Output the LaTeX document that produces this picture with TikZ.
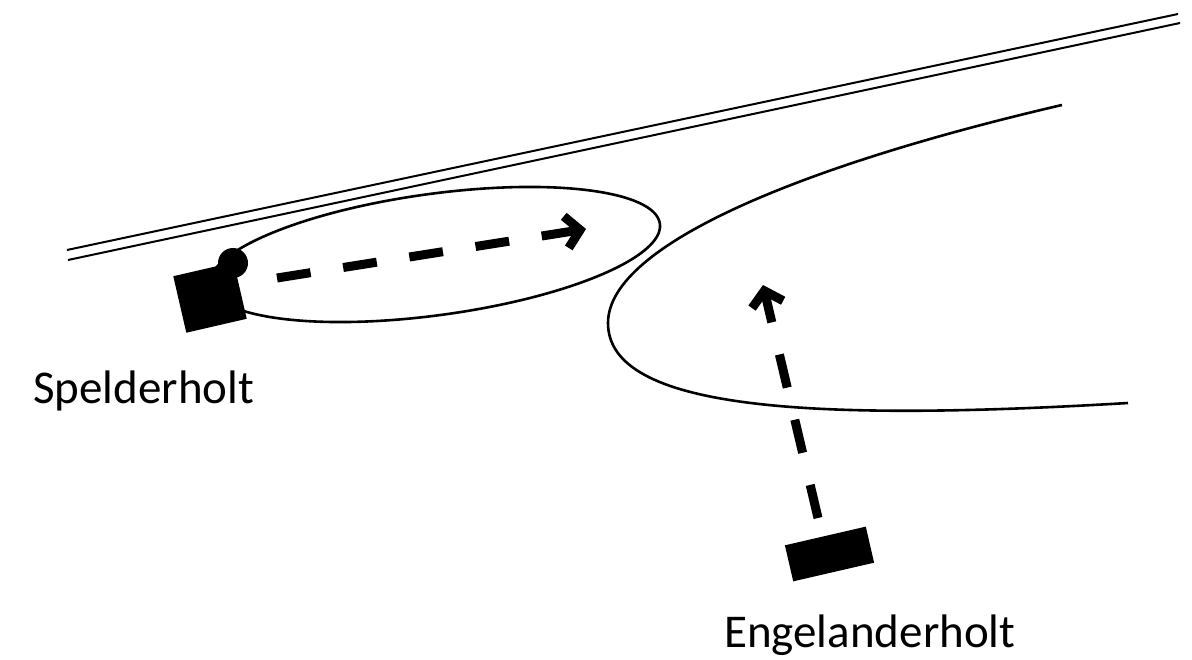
\documentclass[tikz,border=0pt]{standalone}
\usepackage{fontspec}
\setmainfont{Carlito}
\usetikzlibrary{arrows.meta}
\begin{document}
\begin{tikzpicture}[x=1pt,y=-1pt,
  thinline/.style={line width=2pt},
  outline/.style={line width=2.6pt},
  dasharrow/.style={line width=9pt, dash pattern=on 34pt off 33pt, -{Straight Barb[length=14pt,width=32pt]}},
  block/.style={fill=black, draw=none, inner sep=0pt, rotate=13},
  pin/.style={fill=black, draw=none, circle, inner sep=0pt, minimum size=30pt},
  place/.style={font=\fontsize{47}{56}\selectfont, inner sep=0pt, anchor=base west}]
\useasboundingbox (0,0) rectangle (1192,660);
% road
\draw[thinline] (67,250) -- (1178,14);
\draw[thinline] (68,260) -- (1180,23);
% ellipse
\draw[outline, rotate around={7.78:(435,254.5)}] (435,254.5) ellipse [x radius=227, y radius=60.7];
% open curve
\draw[outline] (1062,105) .. controls (812,163) and (608,243) .. (608,323)
  .. controls (608,410) and (810,422) .. (1128,403);
% blocks
\node[block, minimum width=62pt, minimum height=58pt] (spel) at (210,297.5) {};
\node[pin] (hook) at (233,263) {};
\node[block, minimum width=83pt, minimum height=37pt] (eng) at (829.5,554) {};
% labels
\node[place] (spellabel) at (33,403) {Spelderholt};
\node[place] (englabel) at (724,647) {Engelanderholt};
% arrows
\coordinate (a1s) at (277,278);
\coordinate (a1e) at (586,229);
\coordinate (a2s) at (818,518);
\coordinate (a2e) at (763,285);
\draw[dasharrow] (a1s) -- (a1e);
\draw[dasharrow] (a2s) -- (a2e);
\end{tikzpicture}
\end{document}
